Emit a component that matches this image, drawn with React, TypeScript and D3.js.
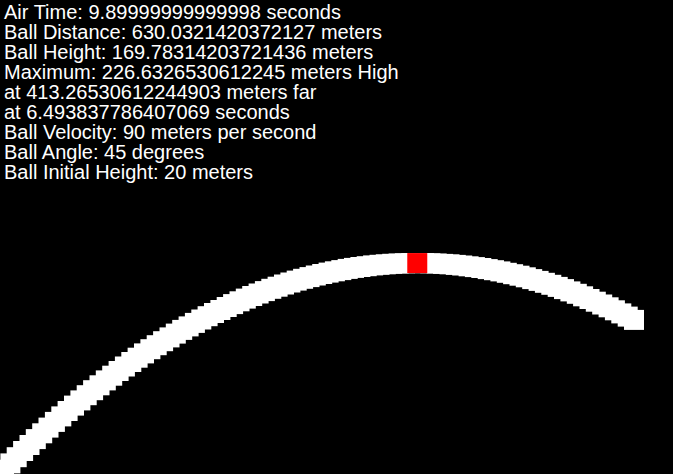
import React from "react";
import * as d3 from "d3";

const W = 673;
const H = 474;

const infoLines = [
  "Air Time: 9.89999999999998 seconds",
  "Ball Distance: 630.0321420372127 meters",
  "Ball Height: 169.78314203721436 meters",
  "Maximum: 226.6326530612245 meters High",
  "at 413.26530612244903 meters far",
  "at 6.493837786407069 seconds",
  "Ball Velocity: 90 meters per second",
  "Ball Angle: 45 degrees",
  "Ball Initial Height: 20 meters",
];

// ball distance (m) at each 0.1 s step
const ballX = [
  0.0, 6.4, 12.7, 19.1, 25.5, 31.8, 38.2, 44.5, 50.9, 57.3,
  63.6, 70.0, 76.4, 82.7, 89.1, 95.5, 101.8, 108.2, 114.6, 120.9,
  127.3, 133.6, 140.0, 146.4, 152.7, 159.1, 165.5, 171.8, 178.2, 184.6,
  190.9, 197.3, 203.6, 210.0, 216.4, 222.7, 229.1, 235.5, 241.8, 248.2,
  254.6, 260.9, 267.3, 273.6, 280.0, 286.4, 292.7, 299.1, 305.5, 311.8,
  318.2, 324.6, 330.9, 337.3, 343.7, 350.0, 356.4, 362.7, 369.1, 375.5,
  381.8, 388.2, 394.6, 400.9, 407.3, 413.7, 420.0, 426.4, 432.7, 439.1,
  445.5, 451.8, 458.2, 464.6, 470.9, 477.3, 483.7, 490.0, 496.4, 502.8,
  509.1, 515.5, 521.8, 528.2, 534.6, 540.9, 547.3, 553.7, 560.0, 566.4,
  572.8, 579.1, 585.5, 591.8, 598.2, 604.6, 610.9, 617.3, 623.7, 630.0,
];

// ball height (m) at each 0.1 s step
const ballY = [
  20.0, 26.3, 32.5, 38.7, 44.7, 50.6, 56.4, 62.1, 67.8, 73.3,
  78.7, 84.1, 89.3, 94.5, 99.5, 104.4, 109.3, 114.0, 118.7, 123.2,
  127.7, 132.0, 136.3, 140.5, 144.5, 148.5, 152.3, 156.1, 159.8, 163.3,
  166.8, 170.2, 173.5, 176.7, 179.7, 182.7, 185.6, 188.4, 191.1, 193.7,
  196.2, 198.6, 200.9, 203.0, 205.2, 207.2, 209.1, 210.9, 212.6, 214.2,
  215.7, 217.1, 218.4, 219.6, 220.8, 221.8, 222.7, 223.5, 224.3, 224.9,
  225.4, 225.9, 226.2, 226.4, 226.6, 226.6, 226.6, 226.4, 226.2, 225.8,
  225.4, 224.8, 224.2, 223.4, 222.6, 221.7, 220.6, 219.5, 218.3, 216.9,
  215.5, 214.0, 212.4, 210.6, 208.8, 206.9, 204.9, 202.8, 200.6, 198.3,
  195.9, 193.4, 190.7, 188.0, 185.2, 182.4, 179.4, 176.3, 173.1, 169.8,
];

const maxPoint = { x: 413.27, y: 226.63 };

export default function App() {
  const size = 20;
  const xScale = d3.scaleLinear().domain([0, 100]).range([-6, 94]);
  const yScale = d3.scaleLinear().domain([0, 100]).range([479.7, 379.7]);
  const points = ballX.map((x, i) => ({ x, y: ballY[i] }));
  return (
    <svg
      width={W}
      height={H}
      style={{ position: "fixed", left: 0, top: 0, background: "#000", display: "block" }}
    >
      <rect x={0} y={0} width={W} height={H} fill="#000" />
      {points.map((p, i) => (
        <rect
          key={i}
          x={xScale(p.x)}
          y={yScale(p.y)}
          width={size}
          height={size}
          fill="#fff"
        />
      ))}
      <rect
        x={xScale(maxPoint.x)}
        y={yScale(maxPoint.y)}
        width={size}
        height={size}
        fill="#ff0000"
      />
      {infoLines.map((t, i) => (
        <text
          key={i}
          x={4}
          y={19 + i * 20}
          fill="#fff"
          fontFamily="'Liberation Sans', Arial, sans-serif"
          fontSize={20}
        >
          {t}
        </text>
      ))}
    </svg>
  );
}
